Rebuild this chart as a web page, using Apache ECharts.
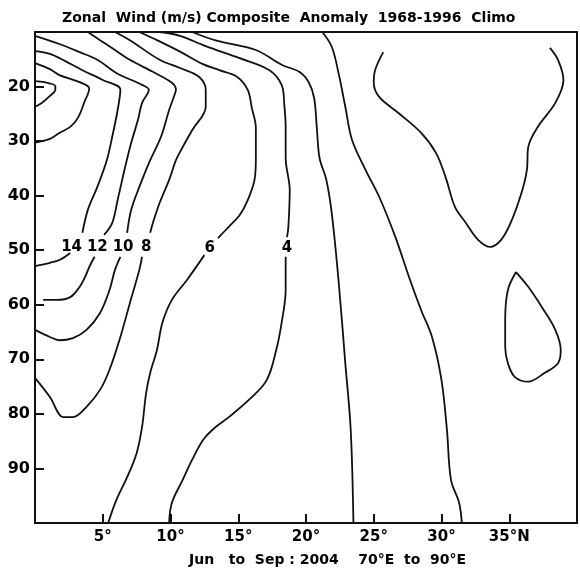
<!DOCTYPE html>
<html>
<head>
<meta charset="utf-8">
<script src="https://cdn.jsdelivr.net/npm/echarts@6/dist/echarts.min.js"></script>
<style>
    html, body { margin: 0; padding: 0; background: #fff; }
    #chart { width: 580px; height: 571px; }
</style>
</head>
<body>
<div id="chart"></div>
<script>
// latitude (deg N) vs y-axis (10 at top, 100 at bottom)
var xTicks = [5, 10, 15, 20, 25, 30, 35];
var yTicks = [20, 30, 40, 50, 60, 70, 80, 90];

// contour lines [lat, y]
var c18 = [[0, 19.0], [0.7, 19.2], [1.5, 19.9], [1.5, 20.6], [1.1, 21.7], [0.5, 23.0], [0, 23.7]];
var c16 = [[0, 15.7], [1.1, 16.8], [1.8, 17.9], [3.3, 19.2], [4.0, 20.3], [3.9, 21.4], [3.7, 22.5], [3.2, 25.6], [2.6, 27.4], [1.8, 28.5], [1.1, 29.6], [0.5, 30.0], [0, 30.3]];
var c14a = [[0, 13.5], [1.1, 14.0], [2.2, 15.3], [3.5, 17.0], [5.0, 18.8], [6.3, 20.6], [6.1, 24.3], [5.7, 29.2], [5.3, 33.5], [4.6, 38.4], [3.9, 42.6], [3.5, 46.8]];
var c14b = [[2.6, 50.5], [1.8, 51.8], [1.1, 52.3], [0, 52.9]];
var c12a = [[0, 10.7], [1.8, 12.2], [3.3, 13.7], [4.6, 15.1], [6.0, 17.5], [7.9, 19.7], [8.4, 20.6], [7.9, 23.0], [7.6, 26.1], [7.1, 30.3], [6.6, 35.3], [6.1, 40.8], [5.7, 45.0], [5.1, 47.2]];
var c12b = [[4.4, 51.2], [4.0, 53.1], [3.7, 54.9], [3.3, 56.7], [2.6, 58.6], [1.6, 59.1], [0.6, 59.1]];
var c10a = [[3.9, 10], [4.8, 11.5], [5.9, 13.3], [7.0, 15.1], [8.7, 17.3], [10.1, 19.3], [10.4, 20.6], [10.3, 21.5], [9.9, 24.3], [9.3, 29.2], [8.5, 33.5], [7.7, 38.4], [7.1, 42.6], [6.8, 46.8]];
var c10b = [[6.3, 51.2], [5.9, 53.6], [5.5, 57.3], [4.8, 61.5], [3.8, 64.6], [2.8, 66.1], [1.8, 66.5], [1.1, 65.9], [0, 64.6]];
var c8a = [[5.9, 10], [7.0, 11.5], [9.2, 15.1], [10.7, 16.6], [12.1, 18.2], [12.6, 20.6], [12.6, 23.7], [11.6, 28.0], [10.9, 31.1], [10.4, 33.5], [9.9, 37.1], [9.2, 41.3], [8.7, 45.0], [8.5, 46.8]];
var c8b = [[7.9, 51.2], [7.7, 53.6], [7.0, 59.7], [6.3, 65.9], [5.5, 71.9], [4.8, 75.6], [3.8, 78.7], [2.8, 80.6], [2.1, 80.6], [1.1, 76.9], [0, 73.4]];
var c6a = [[7.7, 10], [9.0, 11.5], [10.7, 13.6], [12.4, 15.9], [13.6, 17.0], [14.9, 18.2], [15.7, 20.6], [16.0, 23.9], [16.3, 27.6], [16.3, 33.1], [16.2, 37.1], [15.7, 40.8], [15.1, 43.6], [14.3, 45.7], [13.5, 47.8]];
var c6b = [[12.5, 50.9], [11.2, 55.5], [10.1, 59.1], [9.4, 63.3], [9.0, 68.3], [8.5, 72.5], [8.2, 76.2], [7.9, 82.4], [7.5, 87.2], [6.8, 91.6], [6.0, 95.8], [5.4, 100]];
var c4a = [[9.2, 10], [10.7, 10.7], [12.6, 12.6], [15.1, 14.8], [17.3, 17.0], [18.2, 19.7], [18.4, 23.4], [18.5, 27.6], [18.5, 33.1], [18.8, 39.0], [18.7, 45.7], [18.6, 47.6]];
var c4b = [[18.5, 51.2], [18.5, 57.3], [18.2, 63.3], [17.8, 68.3], [17.1, 73.8], [15.8, 77.4], [14.3, 80.6], [13.1, 82.9], [12.4, 84.8], [11.6, 88.4], [10.9, 92.1], [10.1, 96.3], [9.9, 100]];
var c2 = [[11.6, 10], [13.4, 11.6], [16.3, 13.3], [18.2, 16.0], [19.5, 17.3], [20.2, 19.2], [20.6, 22.1], [20.8, 27.6], [21.0, 33.1], [21.5, 37.1], [21.9, 43.2], [22.4, 55.5], [22.9, 70.7], [23.3, 82.9], [23.5, 100]];
var c0 = [[21.2, 10], [21.9, 12.7], [22.4, 17.5], [22.9, 23.7], [23.4, 29.8], [24.4, 35.3], [25.4, 40.2], [26.6, 47.6], [27.6, 54.9], [28.5, 61.0], [29.3, 65.9], [30.0, 73.8], [30.4, 82.9], [30.7, 92.1], [31.3, 96.3], [31.5, 100]];
var cU = [[25.7, 13.7], [25.1, 17.0], [25.0, 19.3], [25.4, 21.9], [26.8, 24.8], [28.5, 28.5], [29.6, 32.2], [30.3, 36.6], [31.0, 42.1], [31.8, 45.0], [32.7, 48.1], [33.6, 49.4], [34.4, 48.1], [35.1, 45.0], [35.9, 39.5], [36.3, 35.3], [36.4, 31.1], [37.1, 27.4], [38.4, 23.0], [39.0, 18.8], [38.6, 15.1], [38.0, 12.9]];
var cLoop = [[35.5, 54.0], [36.4, 56.7], [37.4, 60.4], [38.4, 64.6], [38.8, 68.3], [38.6, 70.7], [37.6, 72.5], [36.4, 74.1], [35.4, 73.2], [34.9, 70.7], [34.7, 67.7], [34.7, 62.8], [34.9, 57.3], [35.5, 54.0]];

// contour value labels [lat, y, text]
var contourLabels = [[2.7, 49.5, '14'], [4.6, 49.5, '12'], [6.5, 49.5, '10'], [8.2, 49.5, '8'], [12.9, 49.7, '6'], [18.6, 49.7, '4']];

var titleText = 'Zonal  Wind (m/s) Composite  Anomaly  1968-1996  Climo';
var footText = 'Jun   to  Sep : 2004    70°E  to  90°E';

var myChart = echarts.init(document.getElementById('chart'));

var lines = [c18, c16, c14a, c14b, c12a, c12b, c10a, c10b, c8a, c8b, c6a, c6b, c4a, c4b, c2, c0, cU, cLoop];
var series = lines.map(function (d) {
    return {
        type: 'line',
        data: d,
        smooth: 0.35,
        showSymbol: false,
        silent: true,
        lineStyle: { color: '#111', width: 1.8 }
    };
});
// contour numbers
series.push({
    type: 'scatter',
    symbolSize: 0,
    silent: true,
    itemStyle: { opacity: 1 },
    data: contourLabels.map(function (p) { return { value: [p[0], p[1]], name: p[2] }; }),
    label: {
        show: true,
        position: 'inside',
        formatter: function (p) { return p.name; },
        color: '#000',
        opacity: 1,
        textBorderWidth: 0,
        fontSize: 15,
        fontWeight: 'bold',
        fontFamily: 'DejaVu Sans'
    }
});

var option = {
    animation: false,
    title: [
        {
            text: titleText,
            left: 57,
            top: 6,
            textStyle: { fontSize: 14, fontWeight: 'bold', color: '#000', fontFamily: 'DejaVu Sans' }
        },
        {
            text: footText,
            left: 184,
            top: 548,
            textStyle: { fontSize: 14, fontWeight: 'bold', color: '#000', fontFamily: 'DejaVu Sans' }
        }
    ],
    grid: {
        left: 35,
        top: 32,
        width: 543,
        height: 491,
        show: true,
        borderColor: '#111',
        borderWidth: 2
    },
    xAxis: {
        type: 'value',
        min: 0,
        max: 40,
        interval: 5,
        splitLine: { show: false },
        axisLine: { lineStyle: { color: '#111', width: 2 } },
        axisTick: { inside: true, length: 9, lineStyle: { color: '#111', width: 2 } },
        axisLabel: {
            color: '#000',
            fontSize: 15,
            fontWeight: 'bold',
            fontFamily: 'DejaVu Sans',
            margin: 7,
            formatter: function (v) {
                if (xTicks.indexOf(v) < 0) return '';
                return v === 35 ? v + '°N' : v + '°';
            }
        }
    },
    yAxis: {
        type: 'value',
        inverse: true,
        min: 10,
        max: 100,
        interval: 10,
        splitLine: { show: false },
        axisLine: { lineStyle: { color: '#111', width: 2 } },
        axisTick: { inside: true, length: 9, lineStyle: { color: '#111', width: 2 } },
        axisLabel: {
            color: '#000',
            fontSize: 16,
            fontWeight: 'bold',
            fontFamily: 'DejaVu Sans',
            margin: 5,
            formatter: function (v) {
                return yTicks.indexOf(v) < 0 ? '' : String(v);
            }
        }
    },
    series: series
};

myChart.setOption(option);
</script>
</body>
</html>
